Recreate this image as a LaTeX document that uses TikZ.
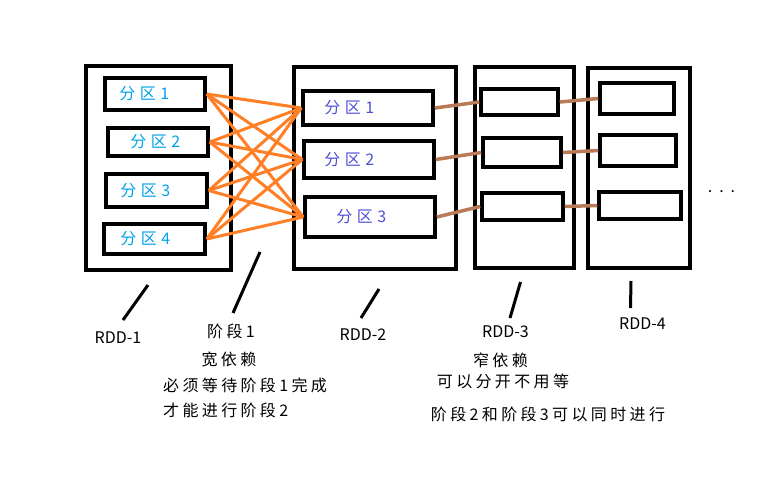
\documentclass[tikz,border=0pt]{standalone}
\usepackage{fontspec}
\setmainfont{Noto Sans CJK SC}
\newfontfamily\cjk[LetterSpace=21]{Noto Sans CJK SC}
\newfontfamily\cjkp[LetterSpace=28]{Noto Sans CJK SC}
\usetikzlibrary{positioning}
\definecolor{wideorange}{RGB}{255,127,39}
\definecolor{narrowbrown}{RGB}{185,122,87}
\definecolor{partblue}{RGB}{0,162,232}
\definecolor{partpurple}{RGB}{80,80,215}

\begin{document}
\begin{tikzpicture}[x=1pt,y=-1pt,
  rdd/.style = {draw, line width=3.5pt, inner sep=0pt},
  part/.style = {draw, line width=3.5pt, inner sep=0pt},
  plabel/.style = {inner sep=0pt, font=\cjkp\fontsize{16}{16}\selectfont},
  rddname/.style = {inner sep=0pt, font=\fontsize{16}{16}\selectfont},
  note/.style = {inner sep=0pt, font=\cjk\fontsize{16}{16}\selectfont},
  wide/.style = {wideorange, line width=3pt},
  narrow/.style = {narrowbrown, line width=3.5pt},
  ptr/.style = {line width=3pt}]
\useasboundingbox (0,0) rectangle (782,485);

% RDD boxes
\node[rdd, minimum width=145pt, minimum height=204pt] (r1) at (158.5,168) {};
\node[rdd, minimum width=162pt, minimum height=202pt] (r2) at (375,168) {};
\node[rdd, minimum width=99pt, minimum height=201pt] (r3) at (524.5,167.5) {};
\node[rdd, minimum width=102pt, minimum height=200pt] (r4) at (639,168) {};

% partitions of RDD-1
\node[part, minimum width=100pt, minimum height=32pt] (a1) at (155,94) {};
\node[part, minimum width=100pt, minimum height=28pt] (a2) at (158,142) {};
\node[part, minimum width=101pt, minimum height=33pt] (a3) at (156.5,190.5) {};
\node[part, minimum width=101pt, minimum height=30pt] (a4) at (154.5,239) {};
\node[plabel, text=partblue] (ta1) [right=16pt of a1.west] {分区1};
\node[plabel, text=partblue] (ta2) [right=24pt of a2.west] {分区2};
\node[plabel, text=partblue] (ta3) [right=16pt of a3.west] {分区3};
\node[plabel, text=partblue] (ta4) [right=18pt of a4.west] {分区4};

% partitions of RDD-2
\node[part, minimum width=130pt, minimum height=34pt] (b1) at (368,108) {};
\node[part, minimum width=130pt, minimum height=37pt] (b2) at (369,159.5) {};
\node[part, minimum width=130pt, minimum height=40pt] (b3) at (370,217) {};
\node[plabel, text=partpurple] (tb1) [right=23pt of b1.west] {分区1};
\node[plabel, text=partpurple] (tb2) [right=22pt of b2.west] {分区2};
\node[plabel, text=partpurple] (tb3) [right=33pt of b3.west] {分区3};

% partitions of RDD-3 and RDD-4
\node[part, minimum width=77pt, minimum height=26pt] (c1) at (519.5,102) {};
\node[part, minimum width=78pt, minimum height=29pt] (c2) at (522,152.5) {};
\node[part, minimum width=81pt, minimum height=27pt] (c3) at (522.5,206.5) {};
\node[part, minimum width=74pt, minimum height=31pt] (d1) at (637,98.5) {};
\node[part, minimum width=76pt, minimum height=31pt] (d2) at (638,150.5) {};
\node[part, minimum width=82pt, minimum height=27pt] (d3) at (640,205.5) {};
\node[rddname] (dots) at (721.5,192) {.\hspace{7pt}.\hspace{7pt}.};

% wide dependency
\foreach \i in {a1,a2,a3,a4}
  \foreach \j in {b1,b2,b3}
    \draw[wide] (\i.east) -- (\j.west);

% narrow dependency
\foreach \i/\j/\k in {b1/c1/d1,b2/c2/d2,b3/c3/d3} {
  \draw[narrow] (\i.east) -- (\j.west);
  \draw[narrow] (\j.east) -- (\k.west);
}

% names and notes
\node[rddname] (l1) at (118,338) {RDD-1};
\node[rddname] (l2) at (363,334.5) {RDD-2};
\node[rddname] (l3) at (505.5,332) {RDD-3};
\node[rddname] (l4) at (642.5,323.5) {RDD-4};
\node[note] (s1) at (231,331) {阶段1};
\node[note] (s2) at (229,359) {宽依赖};
\node[note, anchor=west] (s3) at (163,385.5) {必须等待阶段1完成};
\node[note, anchor=west] (s4) at (163,410) {才能进行阶段2};
\node[note] (n1) at (500.5,360) {窄依赖};
\node[note] (n2) at (503,381) {可以分开不用等};
\node[note] (n3) at (548,414.5) {阶段2和阶段3可以同时进行};

% pointers
\coordinate (u1) at (148,285);   \coordinate (v1) at (123,320);
\coordinate (u2) at (260,252);   \coordinate (v2) at (233,313);
\coordinate (u3) at (379,289);   \coordinate (v3) at (361,318);
\coordinate (u4) at (520.5,282); \coordinate (v4) at (510,318);
\coordinate (u5) at (631,281);   \coordinate (v5) at (630.5,308);
\foreach \k in {1,...,5}
  \draw[ptr] (u\k) -- (v\k);
\end{tikzpicture}
\end{document}
